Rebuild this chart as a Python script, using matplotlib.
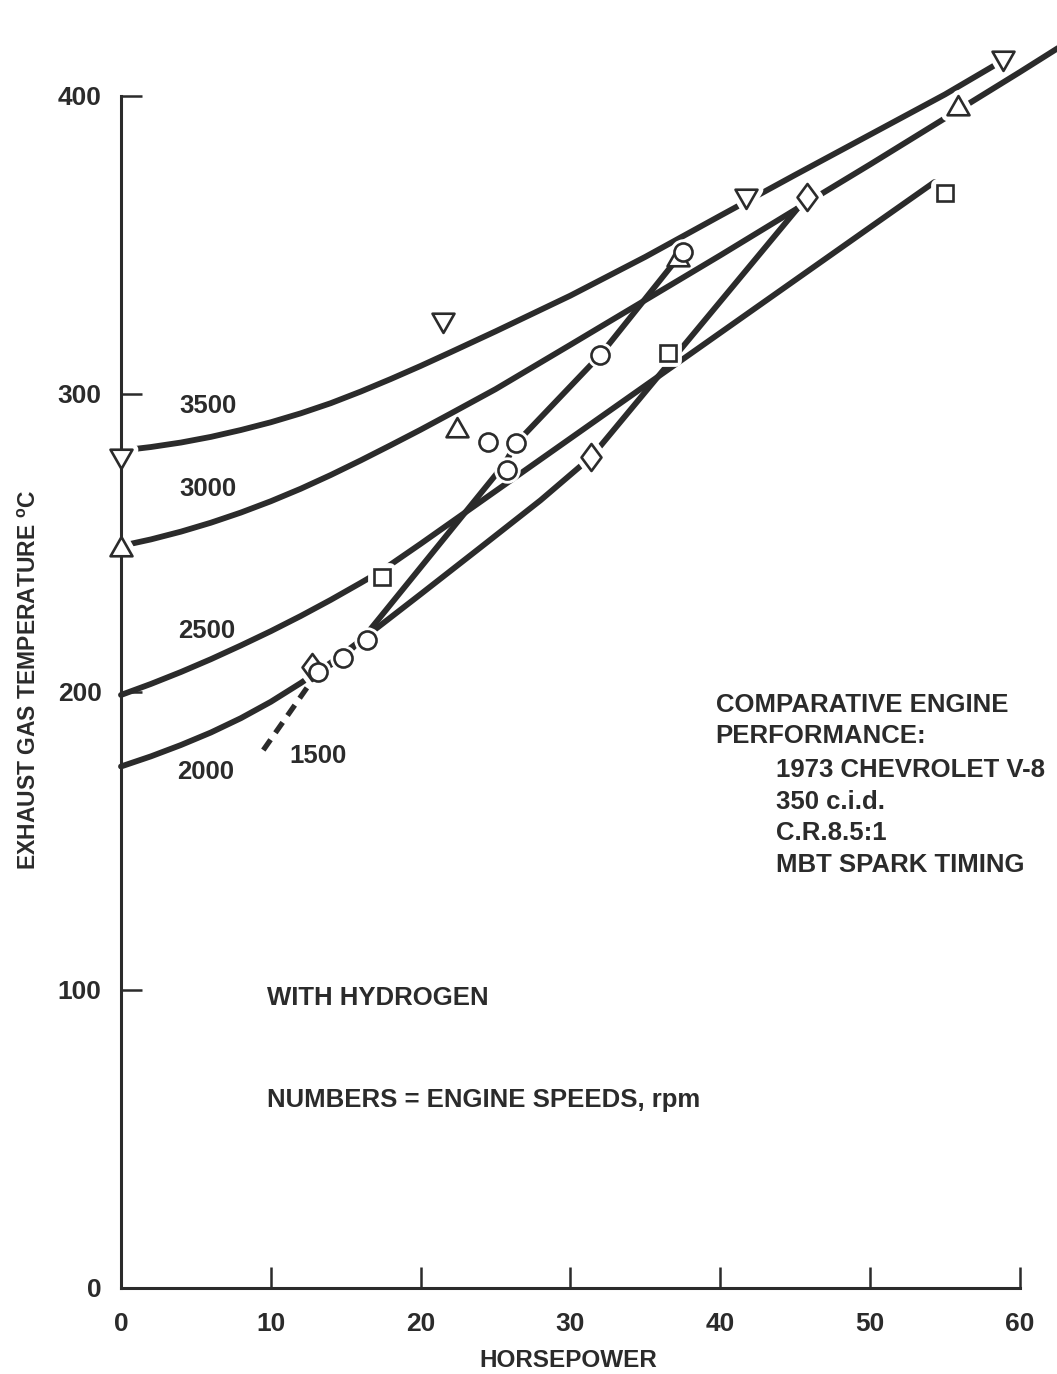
import matplotlib
matplotlib.use("Agg")
import matplotlib.pyplot as plt
from matplotlib.path import Path
from matplotlib.markers import MarkerStyle

plt.rcParams["font.family"] = ["Liberation Sans", "DejaVu Sans"]
plt.rcParams["mathtext.fontset"] = "custom"
plt.rcParams["mathtext.rm"] = "Liberation Sans:bold"

# ---------------------------------------------------------------------------
# Data: exhaust gas temperature (deg C) vs. brake horsepower, by engine speed
# ---------------------------------------------------------------------------
hp_ticks = [0, 10, 20, 30, 40, 50, 60]
temp_ticks = [0, 100, 200, 300, 400]

# faired curves
curve_3500_hp = [0, 2, 4, 6, 8, 10, 12, 14, 16, 18, 20, 22, 25, 30, 35, 40,
                 45, 50, 55, 58.9]
curve_3500_t = [281, 282.2, 283.7, 285.6, 287.9, 290.5, 293.5, 296.9, 300.8,
                305, 309.4, 314, 321, 333, 346, 359.8, 373.5, 387, 400.5, 412]

curve_3000_hp = [0, 2, 4, 6, 8, 10, 12, 14, 16, 18, 20, 22, 25, 30, 35, 40,
                 45, 50, 55, 60, 63]
curve_3000_t = [249, 251.2, 253.8, 256.8, 260.2, 264.0, 268.2, 272.8, 277.7,
                282.8, 288, 293.4, 301.6, 316.5, 331.5, 346.5, 361.8, 377,
                392.5, 408, 417.5]

curve_2500_hp = [0, 2, 4, 6, 8, 10, 12, 14, 16, 17.4, 20, 25, 30, 35, 40, 45,
                 50, 54.3]
curve_2500_t = [199, 202.7, 206.7, 211.0, 215.6, 220.4, 225.5, 230.9, 236.6,
                240.7, 249.7, 267.4, 285.1, 302.8, 320.5, 338.2, 355.9, 371.1]

curve_2000_hp = [0, 2, 4, 6, 8, 10, 12, 14, 16.4, 20, 24, 28, 31.4, 45.8]
curve_2000_t = [175, 178.4, 182.2, 186.4, 191.2, 196.7, 203, 209.8, 218.8,
                232.8, 248.5, 264.3, 278.9, 366.1]

curve_1500_hp = [13.15, 14.8, 16.4, 25.6, 26.4, 32.0, 37.5]
curve_1500_t = [206.7, 211.4, 219.5, 276.5, 283.6, 313.1, 347.7]
# extrapolated (dashed) part of the 1500 rpm curve
curve_1500_ext_hp = [9.5, 13.15]
curve_1500_ext_t = [180.5, 206.7]

# measured points
pts_3500_hp = [0, 21.5, 41.7, 58.9]
pts_3500_t = [278.5, 324.2, 365.8, 412.1]
pts_3000_hp = [0, 22.4, 37.2, 55.9]
pts_3000_t = [248.7, 288.6, 346.0, 396.6]
pts_2500_hp = [17.4, 36.5, 55.0]
pts_2500_t = [238.6, 313.8, 367.4]
pts_2000_hp = [12.75, 31.4, 45.8]
pts_2000_t = [208.4, 278.9, 366.1]
pts_1500_hp = [13.15, 14.8, 16.4, 24.5, 25.8, 26.4, 32.0, 37.5]
pts_1500_t = [206.7, 211.4, 217.4, 283.9, 274.5, 283.6, 313.1, 347.7]

# points that sit on a faired curve (the curve is broken around them)
pts_3500_on_curve = [True, False, True, True]
pts_3000_on_curve = [True, False, False, True]
pts_2500_on_curve = [True, True, True]
pts_2000_on_curve = [True, True, True]
pts_1500_on_curve = [True, True, True, False, True, True, True, True]

speed_labels = ["3500", "3000", "2500", "2000", "1500"]
speed_label_pos = [(5.81, 293.6), (5.81, 265.8), (5.71, 218.1), (5.67, 170.8), (13.15, 176.2)]

# ---------------------------------------------------------------------------
ink = "#2b2b2b"

fig = plt.figure(figsize=(10.57, 13.74), dpi=100)
ax = fig.add_axes([0, 0, 1, 1])
ax.set_xlim(-8.077, 62.483)
ax.set_ylim(-28.86, 432.2)

for side in ("top", "right"):
    ax.spines[side].set_visible(False)
for side in ("left", "bottom"):
    sp = ax.spines[side]
    sp.set_position(("data", 0))
    sp.set_linewidth(2.2)
    sp.set_color(ink)
    sp.set_zorder(3.5)
ax.spines["left"].set_bounds(0, 400)
ax.spines["bottom"].set_bounds(0, 60)

ax.set_xticks(hp_ticks)
ax.set_yticks(temp_ticks)
ax.tick_params(axis="both", direction="in", length=15, width=1.8, color=ink,
               labelsize=19, labelcolor=ink)
ax.tick_params(axis="y", pad=14)
ax.tick_params(axis="x", pad=17)
for lab in ax.get_xticklabels() + ax.get_yticklabels():
    lab.set_fontweight("bold")

# curves
curve_kw = dict(color=ink, lw=4.2, solid_capstyle="round", solid_joinstyle="round", zorder=2)
ax.plot(curve_3500_hp, curve_3500_t, **curve_kw)
ax.plot(curve_3000_hp, curve_3000_t, **curve_kw)
ax.plot(curve_2500_hp, curve_2500_t, **curve_kw)
ax.plot(curve_2000_hp, curve_2000_t, **curve_kw)
ax.plot(curve_1500_hp, curve_1500_t, **curve_kw)
ax.plot(curve_1500_ext_hp, curve_1500_ext_t, color=ink, lw=3.8,
        dashes=(2.4, 1.6), zorder=2)

# marker shapes
tri_down = Path([(-1, 0.8), (1, 0.8), (0, -0.95), (-1, 0.8)], closed=True)
tri_up = Path([(-1, -0.8), (1, -0.8), (0, 0.95), (-1, -0.8)], closed=True)
diamond = Path([(0, 1), (0.74, 0), (0, -1), (-0.74, 0), (0, 1)], closed=True)

# (hp, temp, on-curve flags, marker, size, halo width)
series_pts = [
    (pts_3500_hp, pts_3500_t, pts_3500_on_curve, tri_down, 15.8, 8.5),
    (pts_3000_hp, pts_3000_t, pts_3000_on_curve, tri_up, 15.8, 8.5),
    (pts_2500_hp, pts_2500_t, pts_2500_on_curve, "s", 12.2, 8.5),
    (pts_2000_hp, pts_2000_t, pts_2000_on_curve, diamond, 19.4, 8.5),
    (pts_1500_hp, pts_1500_t, pts_1500_on_curve, "o", 13.0, 6.0),
]

# white halo breaks the curves around each on-curve point
for xs, ys, on, m, ms, halo in series_pts:
    hx = [x for x, f in zip(xs, on) if f]
    hy = [y for y, f in zip(ys, on) if f]
    ax.plot(hx, hy, ls="none", marker=MarkerStyle(m, joinstyle="round"), ms=ms,
            mfc="white", mec="white", mew=halo, zorder=3)
for i, (xs, ys, on, m, ms, halo) in enumerate(series_pts):
    ax.plot(xs, ys, ls="none", marker=m, ms=ms, mfc="white", mec=ink,
            mew=1.9, zorder=4 + 0.1 * i)

# speed labels
for txt, (x, y) in zip(speed_labels, speed_label_pos):
    ax.text(x, y, txt, ha="center", va="baseline", fontsize=18.5,
            fontweight="bold", color=ink)

# notes
note_kw = dict(ha="left", va="baseline", fontsize=18.5, fontweight="bold", color=ink)
ax.text(39.7, 193.3, "COMPARATIVE ENGINE", **note_kw)
ax.text(39.7, 182.9, "PERFORMANCE:", **note_kw)
ax.text(43.7, 171.4, "1973 CHEVROLET V-8", **note_kw)
ax.text(43.7, 160.6, "350 c.i.d.", **note_kw)
ax.text(43.7, 150.3, "C.R.8.5:1", **note_kw)
ax.text(43.7, 139.5, "MBT SPARK TIMING", **note_kw)
ax.text(9.73, 95.0, "WITH HYDROGEN", **note_kw)
ax.text(9.73, 60.8, "NUMBERS = ENGINE SPEEDS, rpm", **note_kw)

# axis titles
fig.text(30 / 1057, 1 - 680 / 1374, r"EXHAUST GAS TEMPERATURE $^{\mathregular{o}}$C",
         rotation=90, ha="center", va="center", fontsize=16.5, fontweight="bold",
         color=ink)
fig.text(568 / 1057, 1 - 1367 / 1374, "HORSEPOWER", ha="center", va="baseline",
         fontsize=17.5, fontweight="bold", color=ink)

fig.savefig("out.png", dpi=100, facecolor="white")
